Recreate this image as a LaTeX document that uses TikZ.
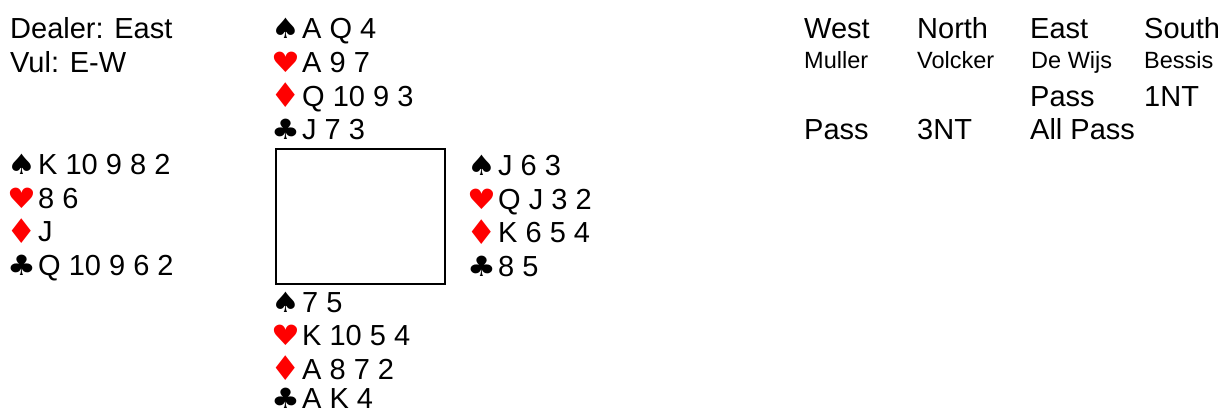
\documentclass[tikz,border=0pt]{standalone}
\usepackage{fontspec}
\setmainfont{Liberation Sans}
\newfontfamily\suitfont[FakeStretch=1.15]{DejaVu Sans}
\newfontfamily\diamfont{DejaVu Sans}
\definecolor{suitred}{RGB}{255,0,0}
\tikzset{
  txt/.style={anchor=base west,inner sep=0pt,text height=21pt,text depth=2pt,font=\fontsize{29}{34}\selectfont},
  nametxt/.style={anchor=base west,inner sep=0pt,font=\fontsize{23.5}{28}\selectfont},
  blacksuit/.style={anchor=base west,inner sep=0pt,text height=21pt,text depth=1pt,font=\suitfont\fontsize{28}{34}\selectfont,text=black},
  redsuit/.style={anchor=base west,inner sep=0pt,text height=21pt,text depth=1pt,font=\suitfont\fontsize{28}{34}\selectfont,text=suitred},
  reddiamond/.style={anchor=base west,inner sep=0pt,text height=22pt,text depth=1pt,font=\diamfont\fontsize{34}{38}\selectfont,text=suitred,yshift=-1.5pt},
  table/.style={draw=black,line width=2pt,fill=white}
}
\begin{document}
\begin{tikzpicture}[x=1pt,y=-1pt]
\useasboundingbox[fill=white] (0,0) rectangle (1223,412);
% header
\node[txt] (dealer) at (10,39) {Dealer: East};
\node[txt] (vul) at (10,72.5) {Vul: E-W};
% North
\node[blacksuit] (ns) at (271,39) {♠};    \node[txt] (nst) at (302,39) {A Q 4};
\node[redsuit]   (nh) at (271,72.5) {♥};  \node[txt] (nht) at (302,72.5) {A 9 7};
\node[reddiamond] (nd) at (270,106) {♦};  \node[txt] (ndt) at (302,106) {Q 10 9 3};
\node[blacksuit] (nc) at (271,139.5) {♣}; \node[txt] (nct) at (302,139.5) {J 7 3};
% West
\node[blacksuit] (ws) at (7,174.5) {♠};  \node[txt] (wst) at (38,174.5) {K 10 9 8 2};
\node[redsuit]   (wh) at (7,208) {♥};    \node[txt] (wht) at (38,208) {8 6};
\node[reddiamond] (wd) at (6,241.5) {♦}; \node[txt] (wdt) at (38,241.5) {J};
\node[blacksuit] (wc) at (7,275) {♣};    \node[txt] (wct) at (38,275) {Q 10 9 6 2};
% East
\node[blacksuit] (es) at (467,175.5) {♠};  \node[txt] (est) at (498,175.5) {J 6 3};
\node[redsuit]   (eh) at (467,209) {♥};    \node[txt] (eht) at (498,209) {Q J 3 2};
\node[reddiamond] (ed) at (466,242.5) {♦}; \node[txt] (edt) at (498,242.5) {K 6 5 4};
\node[blacksuit] (ec) at (467,276) {♣};    \node[txt] (ect) at (498,276) {8 5};
% South
\node[blacksuit] (ss) at (271,312) {♠};    \node[txt] (sst) at (302,312) {7 5};
\node[redsuit]   (sh) at (271,345.5) {♥};  \node[txt] (sht) at (302,345.5) {K 10 5 4};
\node[reddiamond] (sd) at (270,379) {♦};   \node[txt] (sdt) at (302,379) {A 8 7 2};
\node[blacksuit] (sc) at (271,408.5) {♣};  \node[txt] (sct) at (302,408.5) {A K 4};
% table box
\draw[table] (275.5,148.5) rectangle (444.5,283.5);
% bidding
\node[txt] (bw) at (804,39) {West};
\node[txt] (bn) at (917,39) {North};
\node[txt] (be) at (1030,39) {East};
\node[txt] (bs) at (1144,39) {South};
\node[nametxt] (pw) at (804,68) {Muller};
\node[nametxt] (pn) at (917,68) {Volcker};
\node[nametxt] (pe) at (1031,68) {De Wijs};
\node[nametxt] (ps) at (1144,68) {Bessis};
\node[txt] (b1e) at (1030,106) {Pass};
\node[txt] (b1s) at (1144,106) {1NT};
\node[txt] (b2w) at (804,139.5) {Pass};
\node[txt] (b2n) at (917,139.5) {3NT};
\node[txt] (b2e) at (1030,139.5) {All Pass};
\end{tikzpicture}
\end{document}
